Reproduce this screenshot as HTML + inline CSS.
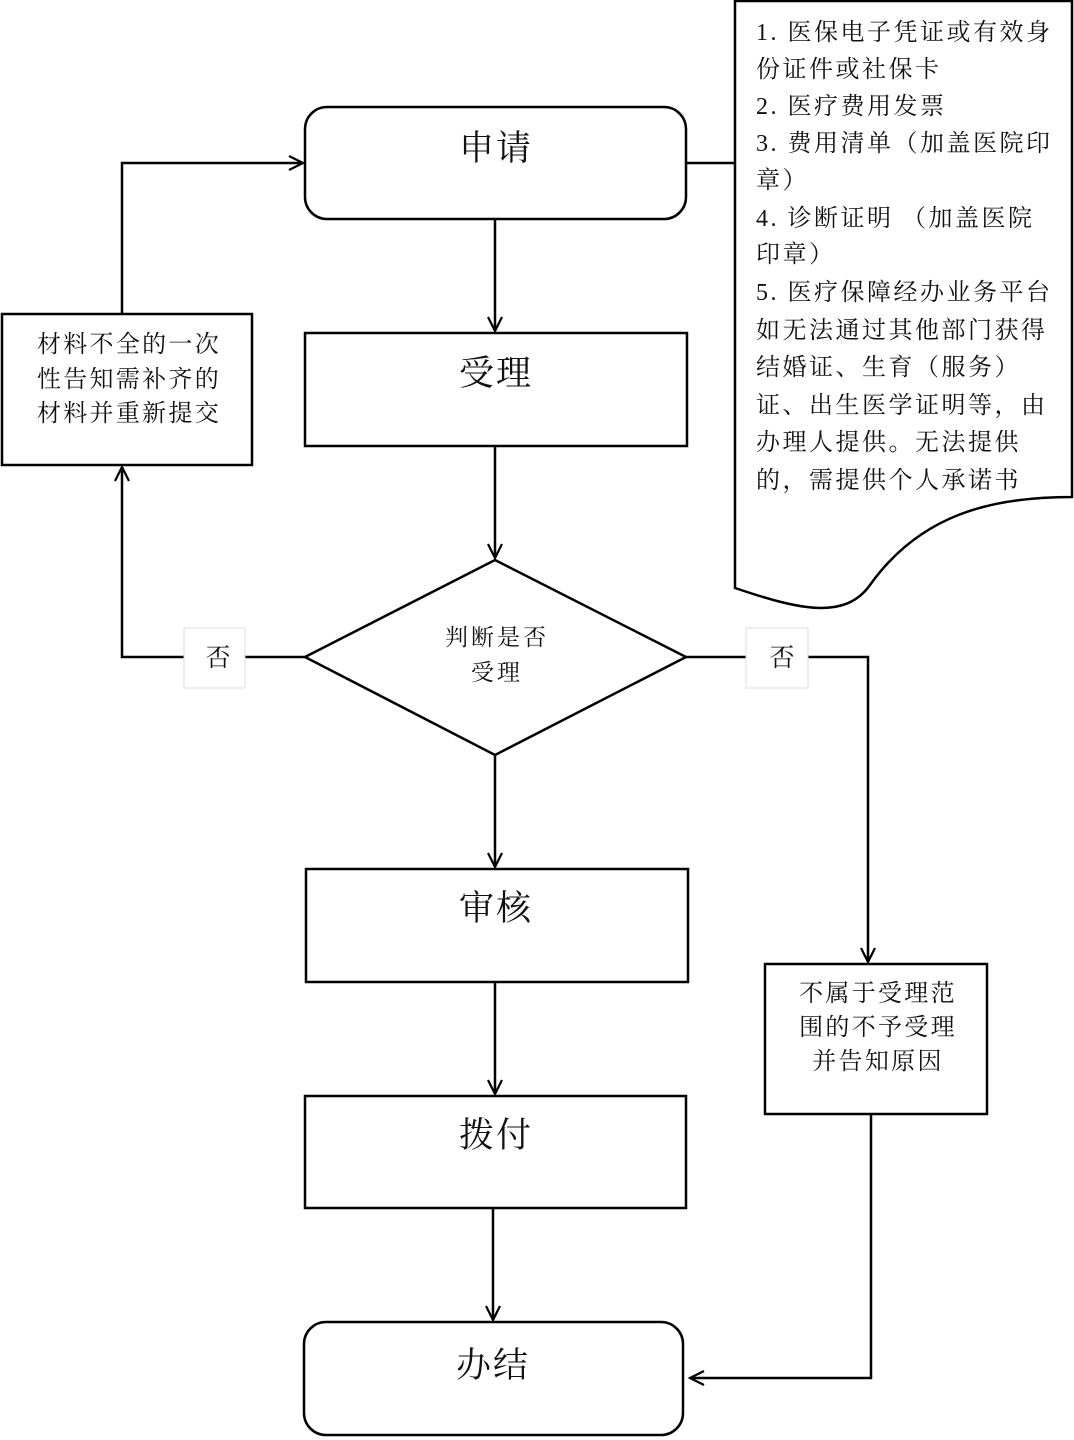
<!DOCTYPE html>
<html><head><meta charset="utf-8"><style>
html,body{margin:0;padding:0;background:#fff}
svg{display:block}
text{font-family:"Liberation Serif","Noto Serif CJK SC",serif;fill:#111}
</style></head><body>
<svg width="1074" height="1440" viewBox="0 0 1074 1440" xmlns="http://www.w3.org/2000/svg">
<defs>
<marker id="a" markerWidth="20" markerHeight="20" refX="16" refY="8" orient="auto" markerUnits="userSpaceOnUse">
<path d="M2,1 L16,8 L2,15" fill="none" stroke="#000" stroke-width="2.2"/>
</marker>
</defs>
<g fill="none" stroke="#000" stroke-width="2.5">
<rect x="305" y="107" width="381" height="112" rx="22"/>
<rect x="305" y="333" width="382" height="113"/>
<polygon points="495,560 686,657 495,755 305,657"/>
<rect x="2" y="314" width="250" height="151"/>
<rect x="765" y="964" width="222" height="150"/>
<rect x="306" y="869" width="382" height="113"/>
<rect x="305" y="1096" width="381" height="112"/>
<rect x="304" y="1322" width="379" height="113" rx="22"/>
<path d="M735,1 L1072,1 L1072,497 C990,497 920,515 870,585 C845,620 800,610 735,588 Z"/>
<line x1="686" y1="163" x2="735" y2="163"/>
<line x1="495" y1="219" x2="495" y2="331" marker-end="url(#a)"/>
<line x1="495" y1="446" x2="495" y2="558" marker-end="url(#a)"/>
<line x1="495" y1="755" x2="495" y2="867" marker-end="url(#a)"/>
<line x1="495" y1="982" x2="495" y2="1094" marker-end="url(#a)"/>
<line x1="493" y1="1208" x2="493" y2="1320" marker-end="url(#a)"/>
<polyline points="305,657 122,657 122,467" marker-end="url(#a)"/>
<polyline points="122,314 122,163 303,163" marker-end="url(#a)"/>
<polyline points="686,657 868,657 868,962" marker-end="url(#a)"/>
<polyline points="871,1114 871,1378 690,1378" marker-end="url(#a)"/>
</g>
<rect x="184" y="628" width="61" height="60" fill="#fff" stroke="#ddd" stroke-width="1"/>
<rect x="746" y="628" width="62" height="60" fill="#fff" stroke="#ddd" stroke-width="1"/>
<text x="218" y="666" font-size="25" text-anchor="middle">否</text>
<text x="782" y="666" font-size="25" text-anchor="middle">否</text>
<g font-size="35" text-anchor="middle" letter-spacing="2">
<text x="496" y="160">申请</text>
<text x="496" y="385">受理</text>
<text x="496" y="920">审核</text>
<text x="496" y="1147">拨付</text>
<text x="493" y="1377">办结</text>
</g>
<g font-size="23" text-anchor="middle" letter-spacing="3">
<text x="497" y="645">判断是否</text>
<text x="497" y="680">受理</text>
</g>
<g font-size="24" text-anchor="middle" letter-spacing="2.3">
<text x="129" y="352">材料不全的一次</text>
<text x="129" y="387">性告知需补齐的</text>
<text x="129" y="421">材料并重新提交</text>
<text x="878" y="1001">不属于受理范</text>
<text x="878" y="1035">围的不予受理</text>
<text x="878" y="1069">并告知原因</text>
</g>
<g font-size="24" letter-spacing="2.5">
<text x="756" y="40">1. 医保电子凭证或有效身</text>
<text x="756" y="77">份证件或社保卡</text>
<text x="756" y="114">2. 医疗费用发票</text>
<text x="756" y="151">3. 费用清单（加盖医院印</text>
<text x="756" y="188">章）</text>
<text x="756" y="226">4. 诊断证明 （加盖医院</text>
<text x="756" y="262">印章）</text>
<text x="756" y="300">5. 医疗保障经办业务平台</text>
<text x="756" y="338">如无法通过其他部门获得</text>
<text x="756" y="375">结婚证、生育（服务）</text>
<text x="756" y="413">证、出生医学证明等，由</text>
<text x="756" y="450">办理人提供。无法提供</text>
<text x="756" y="488">的，需提供个人承诺书</text>
</g>
</svg>
</body></html>
